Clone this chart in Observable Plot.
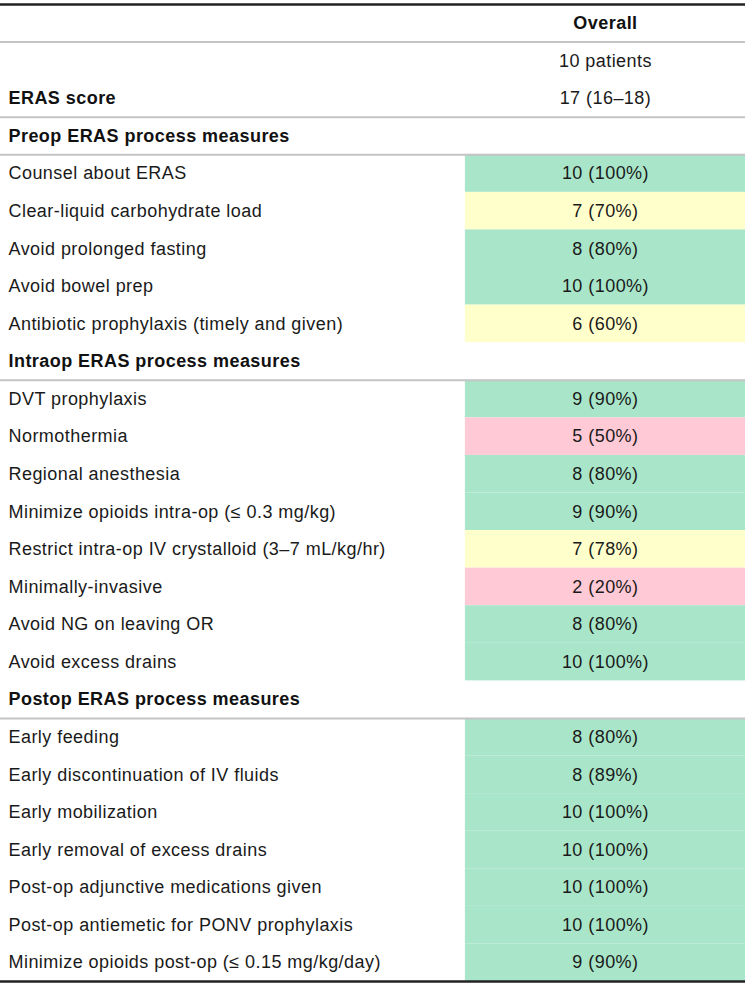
<!DOCTYPE html>
<html>
<head>
<meta charset="utf-8">
<script src="https://cdn.jsdelivr.net/npm/d3@7"></script>
<script src="https://cdn.jsdelivr.net/npm/@observablehq/plot@0.6"></script>
<style>
  html, body { margin: 0; padding: 0; background: #fff; }
  #chart svg { display: block; }
</style>
</head>
<body>
<div id="chart"></div>
<script>
// ---- data ----
const columnHeader = "Overall";
const patientsLabel = "10 patients";
const scoreLabel = "ERAS score";
const scoreValue = "17 (16–18)";

const sectionTitles = [
  "Preop ERAS process measures",
  "Intraop ERAS process measures",
  "Postop ERAS process measures"
];

const preopMeasures = [
  "Counsel about ERAS",
  "Clear-liquid carbohydrate load",
  "Avoid prolonged fasting",
  "Avoid bowel prep",
  "Antibiotic prophylaxis (timely and given)"
];
const preopCounts = [10, 7, 8, 10, 6];
const preopPercents = [100, 70, 80, 100, 60];

const intraopMeasures = [
  "DVT prophylaxis",
  "Normothermia",
  "Regional anesthesia",
  "Minimize opioids intra-op (≤ 0.3 mg/kg)",
  "Restrict intra-op IV crystalloid (3–7 mL/kg/hr)",
  "Minimally-invasive",
  "Avoid NG on leaving OR",
  "Avoid excess drains"
];
const intraopCounts = [9, 5, 8, 9, 7, 2, 8, 10];
const intraopPercents = [90, 50, 80, 90, 78, 20, 80, 100];

const postopMeasures = [
  "Early feeding",
  "Early discontinuation of IV fluids",
  "Early mobilization",
  "Early removal of excess drains",
  "Post-op adjunctive medications given",
  "Post-op antiemetic for PONV prophylaxis",
  "Minimize opioids post-op (≤ 0.15 mg/kg/day)"
];
const postopCounts = [8, 8, 10, 10, 10, 10, 9];
const postopPercents = [80, 89, 100, 100, 100, 100, 90];

// ---- build table rows ----
const rows = [];
rows.push({label: "", value: columnHeader, kind: "head"});
rows.push({label: "", value: patientsLabel, kind: "plain"});
rows.push({label: scoreLabel, value: scoreValue, kind: "score"});
const groups = [
  [preopMeasures, preopCounts, preopPercents],
  [intraopMeasures, intraopCounts, intraopPercents],
  [postopMeasures, postopCounts, postopPercents]
];
groups.forEach(([m, c, p], gi) => {
  rows.push({label: sectionTitles[gi], value: "", kind: "section"});
  m.forEach((name, i) => rows.push({label: name, value: `${c[i]} (${p[i]}%)`, pct: p[i], kind: "measure"}));
});
rows.forEach((r, i) => { r.i = i; r.mid = i + 0.5; });
const N = rows.length;
const measureRows = rows.filter(r => r.kind === "measure");
const boldRows = rows.filter(r => r.kind === "score" || r.kind === "section");
const greyRules = rows.filter(r => r.kind === "head" || r.kind === "score" || r.kind === "section").map(r => r.i + 1);

const W = 750, H = 986;
const plot = Plot.plot({
  width: W,
  height: H,
  marginTop: 4,
  marginBottom: 5,
  marginLeft: 0,
  marginRight: 0,
  style: {fontFamily: "'Liberation Sans', Arial, Helvetica, sans-serif", fontSize: "18px", letterSpacing: "0.45px", background: "#fff", color: "#1a1a1a"},
  x: {domain: [0, 1], range: [0, 745], axis: null},
  y: {domain: [0, N], range: [4, 981], axis: null},
  color: {type: "threshold", domain: [60, 80], range: ["#ffc9d5", "#ffffcc", "#a9e6c9"]},
  marks: [
    Plot.rect(measureRows, {x1: 0.624, x2: 1, y1: "i", y2: d => d.i + 1, fill: "pct"}),
    Plot.ruleY(greyRules, {x1: 0, x2: 1, stroke: "#c4c4c4", strokeWidth: 2}),
    Plot.ruleY([0, N], {x1: 0, x2: 1, stroke: "#222", strokeWidth: 2.5}),
    Plot.text(rows.filter(r => r.label && r.kind !== "score" && r.kind !== "section"), {x: 0, y: "mid", text: "label", textAnchor: "start", dx: 8, fill: "#1a1a1a"}),
    Plot.text(boldRows, {x: 0, y: "mid", text: "label", textAnchor: "start", dx: 8, fontWeight: "bold", fill: "#111"}),
    Plot.text(rows.filter(r => r.value && r.kind !== "head"), {x: 0.812, y: "mid", text: "value", fill: "#1a1a1a"}),
    Plot.text(rows.filter(r => r.kind === "head"), {x: 0.812, y: "mid", text: "value", fontWeight: "bold", fill: "#111"})
  ]
});
document.getElementById("chart").append(plot);
</script>
</body>
</html>
